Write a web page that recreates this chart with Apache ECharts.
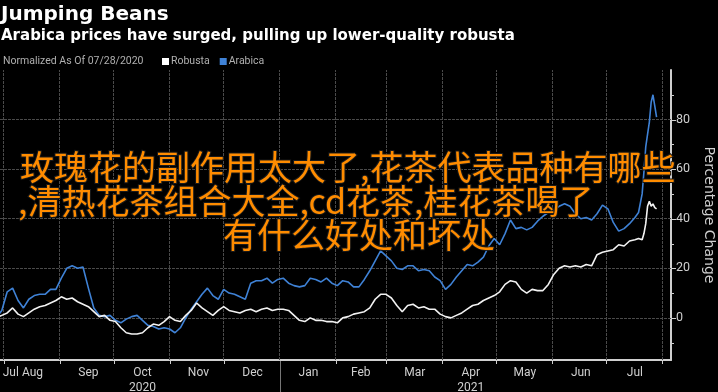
<!DOCTYPE html>
<html>
<head>
<meta charset="utf-8">
<script src="https://cdn.jsdelivr.net/npm/echarts@6/dist/echarts.min.js"></script>
<style>
html,body{margin:0;padding:0;background:#000;}
#chart{width:718px;height:392px;}
</style>
</head>
<body>
<div id="chart"></div>
<script>
// ---- Data ----
const dates = [
'2020-07-28','2020-07-31','2020-08-03','2020-08-06','2020-08-09','2020-08-12','2020-08-15','2020-08-18','2020-08-21','2020-08-24','2020-08-27','2020-08-30',
'2020-09-02','2020-09-05','2020-09-08','2020-09-11','2020-09-14','2020-09-17','2020-09-20','2020-09-23','2020-09-26','2020-09-29',
'2020-10-02','2020-10-05','2020-10-08','2020-10-11','2020-10-14','2020-10-17','2020-10-20','2020-10-23','2020-10-26','2020-10-29',
'2020-11-01','2020-11-04','2020-11-07','2020-11-10','2020-11-13','2020-11-16','2020-11-19','2020-11-22','2020-11-25','2020-11-28',
'2020-12-01','2020-12-04','2020-12-07','2020-12-10','2020-12-13','2020-12-16','2020-12-19','2020-12-22','2020-12-25','2020-12-28','2020-12-31',
'2021-01-03','2021-01-06','2021-01-09','2021-01-12','2021-01-15','2021-01-18','2021-01-21','2021-01-24','2021-01-27','2021-01-30',
'2021-02-02','2021-02-05','2021-02-08','2021-02-11','2021-02-14','2021-02-17','2021-02-20','2021-02-23','2021-02-26',
'2021-03-01','2021-03-04','2021-03-07','2021-03-10','2021-03-13','2021-03-16','2021-03-19','2021-03-22','2021-03-25','2021-03-28','2021-03-31',
'2021-04-03','2021-04-06','2021-04-09','2021-04-12','2021-04-15','2021-04-18','2021-04-21','2021-04-24','2021-04-27','2021-04-30',
'2021-05-03','2021-05-06','2021-05-09','2021-05-12','2021-05-15','2021-05-18','2021-05-21','2021-05-24','2021-05-27','2021-05-30',
'2021-06-02','2021-06-05','2021-06-08','2021-06-11','2021-06-14','2021-06-17','2021-06-20','2021-06-23','2021-06-26','2021-06-29',
'2021-07-02','2021-07-05','2021-07-08','2021-07-11','2021-07-14','2021-07-17',
'2021-07-19','2021-07-20','2021-07-21','2021-07-22','2021-07-23','2021-07-24','2021-07-25','2021-07-26','2021-07-27','2021-07-28','2021-07-29'
];

const robusta = [
0, 1, 2, 4, 1.5, 0.5, 2, 3.5, 4.5, 5, 6, 7,
8.5, 7.5, 8, 6.5, 5.5, 4.5, 2.5, 0.5, 1, -1,
-1.5, -4, -6, -6.5, -6.5, -6, -4, -2.5, -3, -1.5,
0.5, -1, -1.5, 1, 3, 6, 4, 2.5, 1, 3,
4.5, 3, 2.5, 2, 3, 3.5, 2.5, 3.5, 4, 3, 3.5,
3.5, 3, 1, -1, -1.5, 0, -1, -1, -1.5, -1.5,
-2, 0, 0.5, 1.5, 2, 2.5, 4, 7.5, 9.5,
9.5, 8, 5, 2.5, 5, 5.5, 4, 4.5, 3.5, 3.5, 1.5,
0.5, 0, 1, 2, 3.5, 5, 5.5, 7, 8, 9,
10.5, 13.5, 15, 14.5, 11.5, 10, 11.5, 11, 11, 13.5,
17.5, 20, 21, 20.5, 21, 20.5, 21.5, 21, 25.5, 26.5,
27, 27.5, 29.5, 29, 31, 31.5,
32, 31.5, 31.5, 34, 38, 45, 47, 45, 46, 44.5, 44
];

const arabica = [
0, 3, 10.5, 12, 7, 4, 7.5, 9, 9.5, 9.5, 11.5, 11.5,
16, 20, 21, 20, 20.5, 12, 4, 1, 0.5, 1,
-1, -2, -0.5, 0.5, 1, -1, -3, -3.5, -4.5, -4,
-4.5, -6, -4, 0, 3.5, 6.5, 9.5, 12, 9, 7.5,
11.5, 10, 9.5, 8.5, 7.5, 14, 15, 15, 16, 14, 15.5,
16, 14, 13, 12.5, 13, 16, 15.5, 14.5, 16, 14,
13, 15, 14.5, 12.5, 12.5, 15.5, 19, 23, 27,
25, 23, 20, 19.5, 21, 21, 19, 19.5, 19, 16.5, 15,
11.5, 13.5, 16.5, 19, 21.5, 21, 22.5, 24.5, 29, 32,
29.5, 34, 39.5, 36, 36.5, 35.5, 36.5, 39, 41, 42.5,
43.5, 45, 46, 45, 42, 40, 40.5, 39.5, 42, 45.5,
44, 38.5, 35, 36, 38, 40.5,
42.5, 42, 50, 59, 69, 74, 79, 87, 90, 85.5, 81
];

const monthStarts = ['2020-08-01','2020-09-01','2020-10-01','2020-11-01','2020-12-01','2021-01-01','2021-02-01','2021-03-01','2021-04-01','2021-05-01','2021-06-01','2021-07-01','2021-08-01'];
const monthLabelDates = ['2020-08-05','2020-08-17','2020-09-17','2020-10-17','2020-11-17','2020-12-17','2021-01-17','2021-02-15','2021-03-17','2021-04-17','2021-05-17','2021-06-17','2021-07-17'];
const monthLabels = ['Jul','Aug','Sep','Oct','Nov','Dec','Jan','Feb','Mar','Apr','May','Jun','Jul'];
const yearLabels = ['','','','2020','','','','','','2021','','',''];
const yearBreaks = ['2021-01-01'];
const xRange = ['2020-07-30','2021-08-06'];
const yLabelValues = [0, 20, 40, 60, 80];
const yMinorTicks = [-10, 10, 30, 50, 70, 90];
const yRange = [-17, 100];

const titleText = 'Jumping Beans';
const subtitleText = 'Arabica prices have surged, pulling up lower-quality robusta';
const noteText = 'Normalized As Of 07/28/2020';
const overlayLines = [
  '玫瑰花的副作用太大了,花茶代表品种有哪些',
  ',清热花茶组合大全,cd花茶,桂花茶喝了',
  '有什么好处和坏处'
];

// ---- helpers ----
function ts(s){ const p = s.split('-').map(Number); return Date.UTC(p[0], p[1]-1, p[2]); }
const labelMap = {};
monthLabelDates.forEach((d,i)=>{ labelMap[ts(d)] = monthLabels[i] + (yearLabels[i] ? '\n' + yearLabels[i] : ''); });

const robustaData = dates.map((d,i)=>[ts(d), robusta[i]]);
const arabicaData = dates.map((d,i)=>[ts(d), arabica[i]]);

const axisColor = '#cfcfcf';
const gridColor = '#4a4a4a';
const labelFont = 'Roboto, "Liberation Sans", sans-serif';
const titleFont = '"DejaVu Sans", sans-serif';

const gridLines = monthStarts.map(d => ({xAxis: ts(d)}))
  .concat(yLabelValues.map(v => ({yAxis: v})));

const chart = echarts.init(document.getElementById('chart'), null, {renderer:'canvas'});
chart.setOption({
  backgroundColor: '#000',
  animation: false,
  title: [
    {text: titleText, left: 1, top: 5, padding: 0,
     textStyle: {color:'#fff', fontSize: 20, fontWeight:'bold', fontFamily: titleFont}},
    {text: subtitleText, left: 1, top: 29, padding: 0,
     textStyle: {color:'#fff', fontSize: 15, fontWeight:'bold', fontFamily: titleFont}},
    {text: noteText, left: 3, top: 56, padding: 0,
     textStyle: {color:'#b0b0b0', fontSize: 10.5, fontWeight:'normal', fontFamily: labelFont}}
  ],
  legend: {
    left: 162, top: 56, padding: 0,
    icon: 'rect', itemWidth: 7, itemHeight: 7, itemGap: 10,
    textStyle: {color:'#b0b0b0', fontSize: 10.5, fontFamily: labelFont, padding:[0,0,0,-3]},
    data: [
      {name:'Robusta', itemStyle:{color:'#ffffff'}},
      {name:'Arabica', itemStyle:{color:'#3f82d6'}}
    ]
  },
  grid: {left: 0, right: 47, top: 70, bottom: 32, containLabel: false, outerBoundsMode: 'none'},
  xAxis: {
    type: 'value', min: ts(xRange[0]), max: ts(xRange[1]), position: 'bottom',
    axisLine: {show: true, onZero: false, lineStyle: {color: axisColor, width: 2}},
    axisTick: {show: false},
    splitLine: {show: false},
    axisLabel: {
      show: true, customValues: monthLabelDates.map(ts),
      formatter: v => labelMap[v] || '',
      color: axisColor, fontSize: 12, lineHeight: 15, margin: 5, fontFamily: labelFont
    }
  },
  yAxis: {
    type: 'value', position: 'right', min: yRange[0], max: yRange[1],
    axisLine: {show: true, onZero: false, lineStyle: {color: axisColor, width: 2}},
    axisTick: {show: false},
    splitLine: {show: false},
    axisLabel: {show: true, customValues: yLabelValues, color: axisColor, fontSize: 12.5, margin: 5, fontFamily: labelFont},
    name: 'Percentage Change', nameLocation: 'middle', nameRotate: -90, nameGap: 31,
    nameTextStyle: {color: axisColor, fontSize: 14, fontFamily: '"DejaVu Sans", sans-serif'}
  },
  series: [
    {name: 'Robusta', type: 'line', data: robustaData, showSymbol: false, z: 3,
     lineStyle: {color: '#f2f2f2', width: 1.6}, itemStyle: {color:'#ffffff'},
     markLine: {silent: true, z: 1, symbol: 'none', label: {show: false},
                lineStyle: {color: gridColor, width: 1, type: [3, 1]},
                emphasis: {disabled: true}, animation: false, data: gridLines}},
    {name: 'Arabica', type: 'line', data: arabicaData, showSymbol: false, z: 2,
     lineStyle: {color: '#3f82d6', width: 1.6}, itemStyle: {color:'#3f82d6'}}
  ]
});

// ticks and year separator placed through the library's own scales
const px = v => chart.convertToPixel({xAxisIndex: 0}, v);
const py = v => chart.convertToPixel({yAxisIndex: 0}, v);
const bottomY = py(yRange[0]);
const rightX = px(ts(xRange[1]));
const tickStyle = {stroke: axisColor, lineWidth: 1};
const graphics = [];
monthStarts.forEach(d => {
  const x = Math.round(px(ts(d))) + 0.5;
  graphics.push({type:'line', silent: true, z: 50, shape:{x1:x, y1:bottomY, x2:x, y2:bottomY+4}, style: tickStyle});
});
yearBreaks.forEach(d => {
  const x = Math.round(px(ts(d))) + 0.5;
  graphics.push({type:'line', silent: true, z: 50, shape:{x1:x, y1:bottomY+1, x2:x, y2:bottomY+33}, style: {stroke:'#777', lineWidth: 1}});
});
yLabelValues.forEach(v => {
  const y = Math.round(py(v)) + 0.5;
  graphics.push({type:'line', silent: true, z: 50, shape:{x1:rightX, y1:y, x2:rightX+5, y2:y}, style: tickStyle});
});
yMinorTicks.forEach(v => {
  const y = Math.round(py(v)) + 0.5;
  graphics.push({type:'line', silent: true, z: 50, shape:{x1:rightX, y1:y, x2:rightX+3, y2:y}, style: tickStyle});
});
const overlayTops = [149, 183, 217];
const overlayLefts = [19, 17, 222];
overlayLines.forEach((t, i) => {
  graphics.push({type:'text', left: overlayLefts[i], top: overlayTops[i], z: 100,
    style: {text: t, fill: '#ff8c00', stroke: '#1a1a1a', lineWidth: 2,
            font: '34px "Noto Sans CJK SC"'}});
});
chart.setOption({graphic: graphics});
</script>
</body>
</html>
